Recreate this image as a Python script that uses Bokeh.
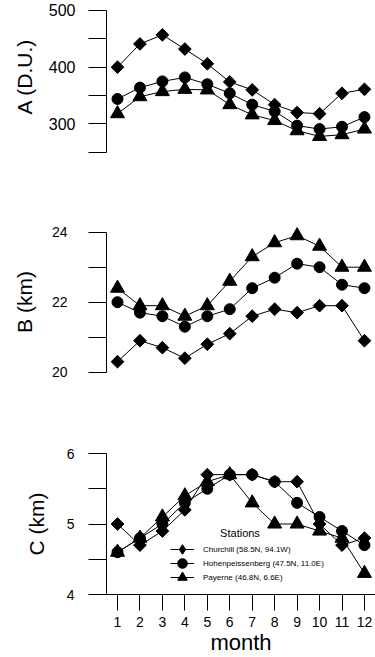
from bokeh.plotting import figure
from bokeh.layouts import column
from bokeh.models import FixedTicker, Range1d, Legend, LegendItem, Label
from bokeh.embed import file_html
from bokeh.resources import INLINE
import math

months = [1, 2, 3, 4, 5, 6, 7, 8, 9, 10, 11, 12]
stations = ["Churchill (58.5N, 94.1W)", "Hohenpeissenberg (47.5N, 11.0E)", "Payerne (46.8N, 6.6E)"]

A_churchill = [400, 441, 457, 432, 406, 374, 360, 334, 320, 318, 354, 361]
A_hohen = [344, 364, 375, 382, 370, 354, 334, 322, 297, 291, 295, 312]
A_payerne = [318, 348, 357, 361, 360, 334, 316, 306, 288, 278, 281, 291]

B_churchill = [20.3, 20.9, 20.7, 20.4, 20.8, 21.1, 21.6, 21.8, 21.7, 21.9, 21.9, 20.9]
B_hohen = [22.0, 21.7, 21.6, 21.3, 21.6, 21.8, 22.4, 22.7, 23.1, 23.0, 22.5, 22.4]
B_payerne = [22.4, 21.9, 21.9, 21.6, 21.9, 22.6, 23.3, 23.7, 23.9, 23.6, 23.0, 23.0]

C_churchill = [5.0, 4.7, 4.9, 5.2, 5.7, 5.7, 5.7, 5.6, 5.6, 5.0, 4.7, 4.8]
C_hohen = [4.6, 4.8, 5.0, 5.3, 5.5, 5.7, 5.7, 5.6, 5.3, 5.1, 4.9, 4.7]
C_payerne = [4.6, 4.8, 5.1, 5.4, 5.6, 5.7, 5.3, 5.0, 5.0, 4.9, 4.8, 4.3]

A_ticks = [250, 300, 350, 400, 450, 500]
A_labels = {250: "", 300: "300", 350: "", 400: "400", 450: "", 500: "500"}
B_ticks = [20, 21, 22, 23, 24]
B_labels = {20: "20", 21: "", 22: "22", 23: "", 24: "24"}
C_ticks = [4, 4.5, 5, 5.5, 6]
C_labels = {4: "4", 4.5: "", 5: "5", 5.5: "", 6: "6"}
x_labels = {m: str(m) for m in months}

FONT = "Liberation Sans"
x_range = Range1d(0.51, 12.492)


def make_fig(height, yr, top, bottom, ylabel, ticks, labels, bounds,
             tick_size, standoff, lab_standoff, xaxis=False):
    p = figure(width=375, height=height, x_range=x_range, y_range=yr,
               output_backend="svg", toolbar_location=None,
               x_axis_location="below" if xaxis else None,
               min_border_left=106, min_border_right=0,
               min_border_top=top, min_border_bottom=bottom)
    p.grid.visible = False
    p.outline_line_color = None
    p.background_fill_color = "white"
    p.border_fill_color = "white"
    ax = p.yaxis[0]
    ax.ticker = FixedTicker(ticks=ticks)
    ax.major_label_overrides = labels
    ax.bounds = bounds
    ax.major_tick_out = 18
    ax.major_tick_in = 0
    ax.minor_tick_out = 0
    ax.minor_tick_in = 0
    ax.axis_line_color = "black"
    ax.major_tick_line_color = "black"
    ax.major_label_text_font = FONT
    ax.major_label_text_font_size = tick_size
    ax.major_label_text_color = "black"
    ax.major_label_standoff = standoff
    ax.axis_label = ylabel
    ax.axis_label_text_font = FONT
    ax.axis_label_text_font_size = "21px"
    ax.axis_label_text_font_style = "normal"
    ax.axis_label_text_color = "black"
    ax.axis_label_standoff = lab_standoff
    if xaxis:
        xa = p.xaxis[0]
        xa.ticker = FixedTicker(ticks=months)
        xa.major_label_overrides = x_labels
        xa.major_tick_out = 16
        xa.major_tick_in = 0
        xa.minor_tick_out = 0
        xa.minor_tick_in = 0
        xa.axis_line_color = "black"
        xa.major_label_text_font = FONT
        xa.major_label_text_font_size = "14px"
        xa.major_label_text_color = "black"
        xa.major_label_standoff = 6
        xa.axis_label = "month"
        xa.axis_label_text_font = FONT
        xa.axis_label_text_font_size = "22px"
        xa.axis_label_text_font_style = "normal"
        xa.axis_label_text_color = "black"
        xa.axis_label_standoff = 0
    return p


def draw(p, ch, ho, pa, legend=False):
    rs = []
    for ys, mk, sz, ang in ((ch, "square", 9, math.pi / 4), (ho, "circle", 11, 0), (pa, "triangle", 14, 0)):
        l = p.line(months, ys, line_color="black", line_width=1)
        s = p.scatter(months, ys, marker=mk, size=sz, angle=ang,
                      fill_color="black", line_color="black")
        rs.append([l, s])
    if legend:
        # diamond-shaped legend key (zero size in the plot itself)
        d = p.scatter(months, ch, marker="diamond", size=0,
                      fill_color="black", line_color="black")
        rs[0] = [rs[0][0], d]
        offsets = [31, 17, 3]
        for i in range(3):
            leg = Legend(items=[LegendItem(label=stations[i], renderers=rs[i])],
                         location=(64, offsets[i]), padding=0, margin=0,
                         glyph_width=24, glyph_height=28, spacing=0, label_height=14,
                         label_standoff=9, label_text_font=FONT,
                         label_text_font_size="8px", label_text_color="black",
                         border_line_color=None, background_fill_alpha=0)
            p.add_layout(leg)


pA = make_fig(190, Range1d(249.6, 517.6), 0, 38, "A (D.U.)", A_ticks, A_labels, (250, 500), "16px", 13, 10)
draw(pA, A_churchill, A_hohen, A_payerne)

pB = make_fig(205, Range1d(19.534, 24.477), 25, 7, "B (km)", B_ticks, B_labels, (20, 24), "14px", 21, 13)
draw(pB, B_churchill, B_hohen, B_payerne)

pC = make_fig(262, Range1d(4, 6), 58, 63, "C (km)", C_ticks, C_labels, (4, 6), "14px", 14, 16, xaxis=True)
draw(pC, C_churchill, C_hohen, C_payerne, legend=True)
pC.add_layout(Label(x=6.456, y=4.87, text="Stations", text_align="center", text_baseline="middle",
                    text_font=FONT, text_font_size="11px", text_color="black"))

layout = column(pA, pB, pC, spacing=0)
open("out.html", "w").write(file_html(layout, INLINE))
